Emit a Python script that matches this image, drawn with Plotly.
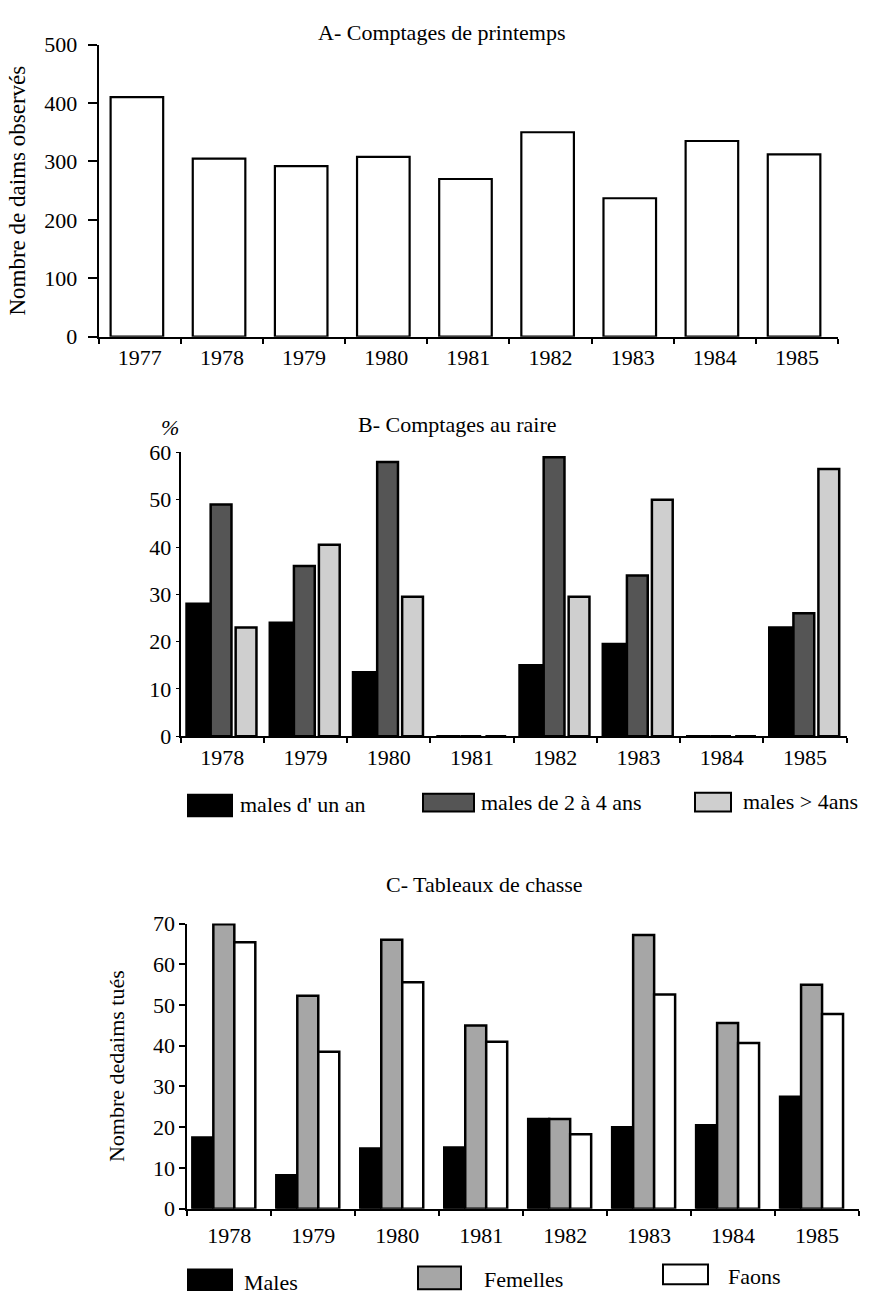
import plotly.graph_objects as go

# ---------------- data ----------------
years_A = ["1977", "1978", "1979", "1980", "1981", "1982", "1983", "1984", "1985"]
counts_A = [410, 305, 292, 308, 270, 350, 237, 335, 312]

years_B = ["1978", "1979", "1980", "1981", "1982", "1983", "1984", "1985"]
males_1an = [28, 24, 13.5, 0, 15, 19.5, 0, 23]
males_2_4 = [49, 36, 58, 0, 59, 34, 0, 26]
males_4plus = [23, 40.5, 29.5, 0, 29.5, 50, 0, 56.5]

years_C = ["1978", "1979", "1980", "1981", "1982", "1983", "1984", "1985"]
males_C = [17.5, 8.2, 14.8, 15, 22, 20, 20.5, 27.5]
femelles_C = [69.8, 52.3, 66, 45, 22, 67.2, 45.6, 55]
faons_C = [65.4, 38.5, 55.6, 41, 18.3, 52.6, 40.7, 47.8]

names_B = ["males d' un an", "males de 2 à 4 ans", "males > 4ans"]
names_C = ["Males", "Femelles", "Faons"]

W, H = 871, 1309
FONT = "Liberation Serif, Times New Roman, serif"
BLACK = "black"
DARK = "#555555"
LIGHT = "#cfcfcf"
MID = "#a6a6a6"
FS = 22


def px_x(x):
    return x / W


def px_y(y):
    return 1 - y / H


fig = go.Figure()

# ---------------- panel A ----------------
fig.add_trace(go.Bar(
    x=years_A, y=counts_A, xaxis="x", yaxis="y",
    width=0.64, offset=-0.355,
    marker=dict(color="white", line=dict(color=BLACK, width=2.2)),
    showlegend=False, name="Comptages de printemps"))

# ---------------- panel B ----------------
for vals, col, off, wd, nm in [
    (males_1an, BLACK, -0.43, 0.29, names_B[0]),
    (males_2_4, DARK, -0.14, 0.25, names_B[1]),
    (males_4plus, LIGHT, 0.16, 0.25, names_B[2]),
]:
    fig.add_trace(go.Bar(
        x=years_B, y=vals, xaxis="x2", yaxis="y2",
        width=wd, offset=off,
        marker=dict(color=col, line=dict(color=BLACK, width=2.5)),
        showlegend=False, name=nm))

# ---------------- panel C ----------------
for vals, col, off, nm in [
    (males_C, BLACK, -0.44, names_C[0]),
    (femelles_C, MID, -0.19, names_C[1]),
    (faons_C, "white", 0.06, names_C[2]),
]:
    fig.add_trace(go.Bar(
        x=years_C, y=vals, xaxis="x3", yaxis="y3",
        width=0.25, offset=off,
        marker=dict(color=col, line=dict(color=BLACK, width=2.5)),
        showlegend=False, name=nm))

tickfont = dict(family=FONT, size=FS, color=BLACK)

common_x = dict(type="category", showline=True, linecolor=BLACK, linewidth=2,
                ticks="outside", tickson="boundaries", ticklen=5, tickwidth=2,
                tickcolor=BLACK, showgrid=False, zeroline=False, tickfont=tickfont)
common_y = dict(showline=True, linecolor=BLACK, linewidth=2, ticks="outside",
                tickcolor=BLACK, showgrid=False, zeroline=False, tickfont=tickfont)

fig.update_layout(
    width=W, height=H,
    margin=dict(l=0, r=0, t=0, b=0),
    paper_bgcolor="white", plot_bgcolor="white",
    font=dict(family=FONT, color=BLACK, size=FS),
    barmode="group",
    xaxis=dict(common_x, domain=[px_x(98.7), px_x(838)], anchor="y",
               range=[-0.5, 8.5]),
    yaxis=dict(common_y, domain=[px_y(331), px_y(33.3)], anchor="x",
               range=[0, 500], tickvals=[0, 100, 200, 300, 400, 500],
               ticklen=9, tickwidth=2, ticklabelstandoff=6,
               title=dict(text="Nombre de daims observés",
                          font=dict(family=FONT, size=FS + 1), standoff=12)),
    xaxis2=dict(common_x, domain=[px_x(180.7), px_x(846.7)], anchor="y2",
                range=[-0.5, 7.5]),
    yaxis2=dict(common_y, domain=[px_y(738.3), px_y(449)], anchor="x2",
                range=[0, 60], tickvals=[0, 10, 20, 30, 40, 50, 60],
                ticklen=3, tickwidth=1),
    xaxis3=dict(common_x, domain=[px_x(187.3), px_x(859)], anchor="y3",
                range=[-0.5, 7.5], ticklabelstandoff=6),
    yaxis3=dict(common_y, domain=[px_y(1220), px_y(929.3)], anchor="x3",
                range=[0, 70], tickvals=[0, 10, 20, 30, 40, 50, 60, 70],
                ticklen=6, tickwidth=2,
                title=dict(text="Nombre dedaims tués",
                           font=dict(family=FONT, size=FS), standoff=22)),
)

annotations = [
    dict(text="A- Comptages de printemps", x=px_x(441), y=px_y(21)),
    dict(text="B- Comptages au raire", x=px_x(457), y=px_y(421)),
    dict(text="C- Tableaux de chasse", x=px_x(484), y=px_y(889)),
    dict(text="<i>%</i>", x=px_x(170), y=px_y(424)),
]
for a in annotations:
    a.update(xref="paper", yref="paper", showarrow=False,
             font=dict(family=FONT, size=FS, color=BLACK),
             xanchor="center", yanchor="middle")

shapes = []
legend_items = [
    # (x0, x1, y0, y1, fill, text, text_x, text_y)
    (188, 232, 798, 820, BLACK, names_B[0], 238, 808),
    (423, 474, 797, 815, DARK, names_B[1], 479, 806),
    (695, 731, 796, 815, LIGHT, names_B[2], 741, 805),
    (188, 232, 1282, 1303, BLACK, names_C[0], 242, 1295),
    (418, 461, 1279, 1302, MID, names_C[1], 482, 1292),
    (663, 708, 1277, 1297, "white", names_C[2], 726, 1289),
]
for x0, x1, y0, y1, fill, txt, tx, ty in legend_items:
    shapes.append(dict(type="rect", xref="paper", yref="paper",
                       x0=px_x(x0), x1=px_x(x1), y0=px_y(y1), y1=px_y(y0),
                       fillcolor=fill, line=dict(color=BLACK, width=2)))
    annotations.append(dict(text=txt, x=px_x(tx), y=px_y(ty), xref="paper",
                            yref="paper", showarrow=False, xanchor="left",
                            yanchor="middle",
                            font=dict(family=FONT, size=FS, color=BLACK)))

fig.update_layout(annotations=annotations, shapes=shapes)

fig.write_html("out.html",
               config={"displayModeBar": False, "responsive": False},
               post_script="document.body.style.margin='0px';"
                           "document.body.style.overflow='hidden';"
                           "document.documentElement.style.overflow='hidden';")
